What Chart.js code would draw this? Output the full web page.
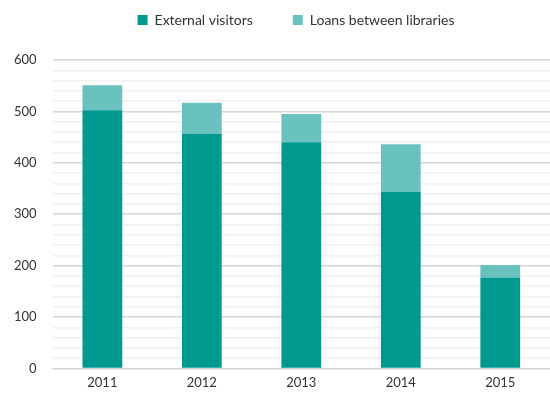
<!DOCTYPE html>
<html>
<head>
<meta charset="utf-8">
<script src="https://cdn.jsdelivr.net/npm/chart.js@4/dist/chart.umd.min.js"></script>
<style>
html,body{margin:0;padding:0;background:#fff;}
#wrap{width:550px;height:394px;position:relative;}
</style>
</head>
<body>
<div id="wrap"><canvas id="chart"></canvas></div>
<script>
// data
const years=["2011","2012","2013","2014","2015"];
const externalVisitors=[502,456,440,343,177];
const loansBetweenLibraries=[49,61,55,93,24];
const yTicks=[0,100,200,300,400,500,600];

// move the legend without changing the plot area
const legendShift={
id:"legendShift",
afterLayout(chart){
let lg=chart.legend;
let dx=22, dy=-23;
lg.left+=dx; lg.right+=dx;
lg.top+=dy; lg.bottom+=dy;
}
};

const ctx=document.getElementById("chart");

new Chart(ctx,{
type:"bar",
data:{
labels:years,
datasets:[{
label:"External visitors",
data:externalVisitors,
backgroundColor:"#00998f"
},{
label:"Loans between libraries",
data:loansBetweenLibraries,
backgroundColor:"#69c2bd"
}]
},
plugins:[legendShift],
options:{
responsive:true,
maintainAspectRatio:false,
animation:false,
layout:{padding:{left:-2,right:0,top:-4,bottom:-4}},
datasets:{bar:{barPercentage:0.8,categoryPercentage:0.5}},
plugins:{
tooltip:{enabled:false},
legend:{
position:"top",
labels:{
boxWidth:10,
boxHeight:10,
padding:40,
color:"#333",
font:{family:"Lato",size:14}
}
}
},
scales:{
x:{
stacked:true,
grid:{display:false,drawTicks:false},
border:{color:"#d6d6d6"},
ticks:{color:"#333",padding:7,font:{family:"Lato",size:13}}
},
y:{
stacked:true,
min:0,
max:600,
border:{display:false},
grid:{
drawTicks:false,
color:c=>yTicks.includes(c.tick.value)?"#d6d6d6":"#f0f0f0",
lineWidth:1.5
},
ticks:{
stepSize:20,
autoSkip:false,
padding:16,
color:"#333",
font:{family:"Lato",size:13},
callback:v=>yTicks.includes(v)?v:""
}
}
}
}
});
</script>
</body>
</html>
